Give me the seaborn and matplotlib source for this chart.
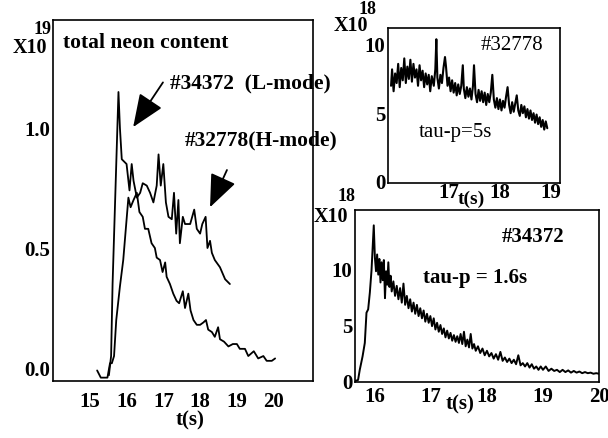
import matplotlib
matplotlib.use('Agg')
import matplotlib.pyplot as plt
import seaborn as sns
from matplotlib.ticker import MultipleLocator

# ---- data ----
# left panel: total neon content (x10^19)
t_spike = [15.52, 15.58, 15.62, 15.70, 15.78, 15.82, 15.87, 16.00, 16.08, 16.14, 16.19, 16.28,
           16.37, 16.44, 16.55, 16.64, 16.73, 16.82, 16.87, 16.93, 17.00, 17.07, 17.14, 17.23,
           17.29, 17.35, 17.41, 17.45, 17.53, 17.59, 17.73, 17.84, 17.91, 18.00, 18.06, 18.15,
           18.20, 18.27, 18.32, 18.40, 18.54, 18.68, 18.81]
n_spike = [-0.03, 0.05, 0.35, 0.75, 1.15, 1.00, 0.87, 0.85, 0.74, 0.85, 0.78, 0.71,
           0.73, 0.77, 0.76, 0.73, 0.69, 0.76, 0.89, 0.76, 0.85, 0.69, 0.63, 0.62,
           0.73, 0.56, 0.70, 0.52, 0.63, 0.60, 0.60, 0.66, 0.58, 0.56, 0.60, 0.63,
           0.50, 0.53, 0.48, 0.45, 0.42, 0.37, 0.35]

t_long = [15.20, 15.30, 15.48, 15.55, 15.60, 15.66, 15.72, 15.82, 15.91, 16.05, 16.11, 16.19,
          16.28, 16.35, 16.44, 16.50, 16.59, 16.68, 16.77, 16.82, 16.91, 16.98, 17.05, 17.09,
          17.18, 17.27, 17.36, 17.43, 17.53, 17.59, 17.68, 17.74, 17.82, 17.91, 18.00, 18.09,
          18.16, 18.22, 18.32, 18.40, 18.49, 18.54, 18.65, 18.77, 18.89, 19.00, 19.08, 19.22,
          19.31, 19.46, 19.58, 19.72, 19.81, 19.95, 20.04]
n_long = [-0.01, -0.04, -0.04, 0.02, 0.02, 0.05, 0.20, 0.34, 0.45, 0.71, 0.67, 0.70,
          0.73, 0.65, 0.63, 0.58, 0.58, 0.52, 0.50, 0.46, 0.45, 0.40, 0.44, 0.38,
          0.35, 0.31, 0.28, 0.27, 0.32, 0.25, 0.31, 0.24, 0.20, 0.18, 0.18, 0.19,
          0.20, 0.16, 0.15, 0.13, 0.17, 0.12, 0.11, 0.09, 0.10, 0.10, 0.08, 0.08,
          0.05, 0.07, 0.04, 0.05, 0.03, 0.03, 0.04]

# top right: #32778 (x10^18)
t_32778 = [15.86, 15.88, 15.91, 15.94, 15.97, 16.00, 16.03, 16.06, 16.09, 16.12, 16.15, 16.18,
           16.21, 16.24, 16.27, 16.30, 16.33, 16.36, 16.39, 16.42, 16.45, 16.48, 16.51, 16.54,
           16.57, 16.60, 16.63, 16.66, 16.70, 16.73, 16.75, 16.77, 16.80, 16.83, 16.86, 16.89,
           16.92, 16.94, 16.97, 17.00, 17.03, 17.06, 17.09, 17.12, 17.15, 17.18, 17.21, 17.24,
           17.27, 17.29, 17.32, 17.35, 17.38, 17.41, 17.44, 17.47, 17.49, 17.52, 17.55, 17.58,
           17.61, 17.64, 17.67, 17.70, 17.73, 17.76, 17.79, 17.82, 17.85, 17.88, 17.91, 17.94,
           17.97, 18.00, 18.03, 18.06, 18.09, 18.12, 18.15, 18.18, 18.21, 18.24, 18.27, 18.30,
           18.33, 18.36, 18.39, 18.42, 18.45, 18.48, 18.51, 18.54, 18.57, 18.60, 18.63, 18.66,
           18.69, 18.72, 18.75, 18.78, 18.81, 18.84, 18.87, 18.90, 18.93]
n_32778 = [7.0, 8.2, 6.6, 7.9, 7.2, 8.6, 6.9, 8.3, 7.4, 9.0, 7.2, 8.4,
           7.5, 8.9, 7.3, 8.6, 7.6, 8.2, 7.0, 8.5, 7.4, 8.1, 6.9, 7.9,
           7.1, 7.8, 6.6, 7.7, 7.0, 8.2, 10.4, 7.6, 6.8, 7.8, 7.2, 8.3,
           9.1, 8.4, 7.0, 7.6, 6.6, 7.4, 6.5, 7.2, 6.3, 7.1, 6.4, 7.0,
           8.5, 6.8, 6.1, 6.9, 6.2, 6.8, 6.0, 7.0, 8.5, 6.4, 5.8, 6.7,
           5.9, 6.6, 5.8, 6.5, 5.6, 6.4, 5.8, 6.5, 7.8, 6.0, 5.4, 6.1,
           5.3, 6.0, 5.2, 5.9, 5.4, 6.2, 6.9, 5.6, 5.0, 5.8, 5.1, 5.7,
           6.3, 5.2, 4.8, 5.6, 5.0, 5.5, 4.7, 5.3, 4.6, 5.2, 4.5, 5.0,
           4.3, 4.9, 4.2, 4.7, 4.0, 4.5, 3.8, 4.4, 3.9]

# bottom right: #34372 (x10^18)
t_34372 = [15.65, 15.70, 15.73, 15.78, 15.82, 15.85, 15.88, 15.91, 15.94, 15.98, 16.00, 16.02,
           16.04, 16.06, 16.08, 16.10, 16.12, 16.14, 16.16, 16.18, 16.20, 16.22, 16.24, 16.26,
           16.28, 16.30, 16.33, 16.36, 16.39, 16.42, 16.45, 16.48, 16.51, 16.54, 16.57, 16.60,
           16.63, 16.66, 16.69, 16.72, 16.75, 16.78, 16.81, 16.84, 16.87, 16.90, 16.93, 16.96,
           16.99, 17.02, 17.05, 17.08, 17.11, 17.14, 17.17, 17.20, 17.23, 17.26, 17.29, 17.32,
           17.35, 17.38, 17.41, 17.44, 17.47, 17.50, 17.53, 17.56, 17.59, 17.62, 17.65, 17.68,
           17.71, 17.74, 17.77, 17.80, 17.84, 17.88, 17.92, 17.96, 18.00, 18.04, 18.08, 18.12,
           18.16, 18.20, 18.24, 18.28, 18.32, 18.36, 18.40, 18.44, 18.48, 18.52, 18.56, 18.60,
           18.64, 18.68, 18.72, 18.76, 18.80, 18.84, 18.88, 18.92, 18.96, 19.00, 19.05, 19.10,
           19.15, 19.20, 19.25, 19.30, 19.35, 19.40, 19.45, 19.50, 19.55, 19.60, 19.65, 19.70,
           19.75, 19.80, 19.85, 19.90, 19.95, 20.00]
n_34372 = [0.0, 0.1, 1.0, 2.2, 3.4, 6.1, 6.4, 7.9, 9.9, 13.9, 11.0, 9.8,
           11.3, 9.5, 10.9, 8.8, 10.6, 9.0, 10.8, 7.4, 9.8, 8.6, 10.6, 8.4,
           9.4, 8.0, 8.9, 7.6, 8.5, 7.3, 8.3, 7.0, 8.7, 6.8, 7.6, 6.5,
           7.3, 6.2, 7.0, 6.0, 6.8, 5.8, 6.5, 5.6, 6.3, 5.3, 6.0, 5.2,
           5.8, 4.9, 5.6, 4.6, 5.2, 4.4, 5.0, 4.2, 4.7, 3.9, 4.5, 3.8,
           4.3, 3.6, 4.1, 3.5, 4.0, 3.4, 4.2, 3.3, 4.4, 3.1, 3.7, 3.0,
           4.2, 2.9, 3.3, 2.7, 3.1, 2.5, 2.9, 2.3, 2.7, 2.2, 2.5, 2.0,
           2.4, 1.9, 2.6, 1.8, 2.1, 1.7, 2.0, 1.6, 1.9, 1.5, 2.3, 1.4,
           1.6, 1.3, 1.6, 1.2, 1.5, 1.1, 1.3, 1.0, 1.3, 1.0, 1.3, 0.9,
           1.1, 0.9, 1.0, 0.8, 1.0, 0.8, 0.95, 0.75, 0.9, 0.75, 0.85, 0.7,
           0.8, 0.7, 0.75, 0.65, 0.7, 0.65]

W, H = 608, 438


def fp(x, y):
    # image pixel (from top-left) -> figure fraction
    return x / W, 1 - y / H


sns.set_theme(style='white')
plt.rcParams['font.family'] = ['Liberation Serif', 'DejaVu Serif']
plt.rcParams['font.weight'] = 'bold'
plt.rcParams['text.color'] = 'black'

fig = plt.figure(figsize=(W / 100, H / 100), dpi=100)
ax1 = fig.add_axes([53 / W, 1 - 381 / H, 260 / W, 361 / H])
ax2 = fig.add_axes([388 / W, 1 - 183 / H, 172 / W, 155 / H])
ax3 = fig.add_axes([355 / W, 1 - 381.7 / H, 244 / W, 171.7 / H])

line_kw = dict(color='black', estimator=None, sort=False, legend=False)
sns.lineplot(x=t_spike, y=n_spike, ax=ax1, lw=1.3, **line_kw)
sns.lineplot(x=t_long, y=n_long, ax=ax1, lw=1.3, **line_kw)
sns.lineplot(x=t_32778, y=n_32778, ax=ax2, lw=1.5, **line_kw)
sns.lineplot(x=t_34372, y=n_34372, ax=ax3, lw=1.4, **line_kw)

ax1.set_xlim(14.0, 21.07)
ax1.set_ylim(-0.054, 1.45)
ax1.set_xticks([15, 16, 17, 18, 19, 20])
ax1.set_yticks([0, 0.5, 1.0])
ax1.set_yticklabels(['0.0', '0.5', '1.0'])
ax1.tick_params(axis='x', pad=8)
ax1.tick_params(axis='y', pad=2)

ax2.set_xlim(15.80, 19.18)
ax2.set_ylim(-0.1, 11.22)
ax2.set_xticks([17, 18, 19])
ax2.set_yticks([0, 5, 10])
ax2.xaxis.set_minor_locator(MultipleLocator(0.2))
ax2.yaxis.set_minor_locator(MultipleLocator(1))
ax2.tick_params(axis='x', pad=0)
ax2.tick_params(axis='y', pad=2)

ax3.set_xlim(15.645, 20.0)
ax3.set_ylim(-0.06, 15.27)
ax3.set_xticks([16, 17, 18, 19, 20])
ax3.set_yticks([0, 5, 10])
ax3.xaxis.set_minor_locator(MultipleLocator(0.2))
ax3.yaxis.set_minor_locator(MultipleLocator(1))
ax3.tick_params(axis='x', pad=4)
ax3.tick_params(axis='y', pad=2)

for ax in (ax1, ax2, ax3):
    ax.set_xlabel('')
    ax.set_ylabel('')
    for s in ax.spines.values():
        s.set_color('black')
        s.set_linewidth(1.2)
    ax.tick_params(which='major', direction='in', length=4, width=1, colors='black',
                   labelsize=15)
    ax.tick_params(which='minor', direction='in', length=2, width=0.8, colors='black')
    for lab in ax.get_xticklabels() + ax.get_yticklabels():
        lab.set_fontweight('bold')

# left panel annotations
fig.text(*fp(63, 43), 'total neon content', fontsize=15.5, fontweight='bold', va='center')
fig.text(*fp(30, 48), 'X10', fontsize=14.5, fontweight='bold', ha='center', va='center')
fig.text(*fp(43, 30), '19', fontsize=13, fontweight='bold', ha='center', va='center')
fig.text(*fp(170, 83), '#34372  (L-mode)', fontsize=15.5, fontweight='bold', va='center')
fig.text(*fp(185, 140), '#32778(H-mode)', fontsize=15.5, fontweight='bold', va='center')
fig.text(*fp(190, 420), 't(s)', fontsize=15, fontweight='bold', ha='center', va='center')

arrow_kw = dict(arrowstyle='-|>,head_length=1.7,head_width=0.7', mutation_scale=12,
                color='black', lw=1.3, shrinkA=0, shrinkB=0)
ax1.annotate('', xy=(16.18, 1.004), xytext=(16.99, 1.19), arrowprops=arrow_kw,
             annotation_clip=False)
ax1.annotate('', xy=(18.27, 0.67), xytext=(18.73, 0.825), arrowprops=arrow_kw,
             annotation_clip=False)

# top right annotations
fig.text(*fp(351, 26), 'X10', fontsize=14.5, fontweight='bold', ha='center', va='center')
fig.text(*fp(368, 10), '18', fontsize=13, fontweight='bold', ha='center', va='center')
fig.text(*fp(512, 45), '#32778', fontsize=15, fontweight='normal', ha='center', va='center')
fig.text(*fp(455, 133), 'tau-p=5s', fontsize=15, fontweight='normal', ha='center', va='center')
fig.text(*fp(471, 199), 't(s)', fontsize=14, fontweight='bold', ha='center', va='center')

# bottom right annotations
fig.text(*fp(331, 217), 'X10', fontsize=14.5, fontweight='bold', ha='center', va='center')
fig.text(*fp(347, 197), '18', fontsize=13, fontweight='bold', ha='center', va='center')
fig.text(*fp(533, 237), '#34372', fontsize=15, fontweight='bold', ha='center', va='center')
fig.text(*fp(475, 278), 'tau-p = 1.6s', fontsize=15, fontweight='bold', ha='center', va='center')
fig.text(*fp(460, 404), 't(s)', fontsize=15, fontweight='bold', ha='center', va='center')

fig.savefig('out.png', dpi=100)
